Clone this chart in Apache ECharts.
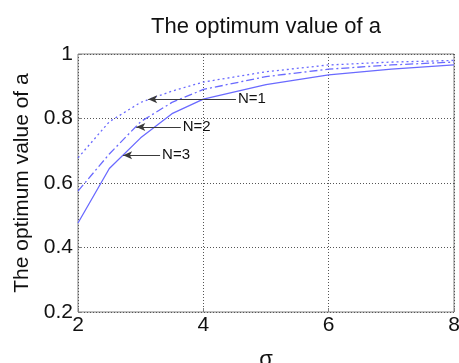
<!DOCTYPE html>
<html>
<head>
<meta charset="utf-8">
<script src="https://cdn.jsdelivr.net/npm/echarts@6/dist/echarts.min.js"></script>
<style>
html,body{margin:0;padding:0;background:#fff;}
#chart{width:459px;height:363px;}
</style>
</head>
<body>
<div id="chart"></div>
<script>
// Data
var sigma = [2, 2.5, 3, 3.5, 4, 5, 6, 7, 8];
var valuesN1 = [0.678, 0.79, 0.85, 0.885, 0.913, 0.945, 0.966, 0.975, 0.98];
var valuesN2 = [0.575, 0.69, 0.79, 0.85, 0.89, 0.93, 0.953, 0.966, 0.975];
var valuesN3 = [0.476, 0.645, 0.74, 0.815, 0.86, 0.905, 0.935, 0.953, 0.966];
var xTicks = [2, 4, 6, 8];
var yTicks = [0.2, 0.4, 0.6, 0.8, 1];
var labelsN = ['N=1', 'N=2', 'N=3'];
// annotation arrow: tip (on curve) and tail (label side), data coords
var arrowTips = [[3.12, 0.86], [2.93, 0.774], [2.72, 0.686]];
var arrowTailX = [4.52, 3.64, 3.31];

var FONT = '"Liberation Sans", Arial, sans-serif';
function pairs(xs, ys) { return xs.map(function (x, i) { return [x, ys[i]]; }); }
function annot(i) {
  return {
    silent: true,
    animation: false,
    lineStyle: { color: '#3a3a3a', width: 1, type: 'solid' },
    label: { show: true, position: 'end', formatter: labelsN[i], color: '#111', fontSize: 15, fontFamily: FONT, distance: 2 },
    data: [[
      { coord: arrowTips[i], symbol: 'arrow', symbolSize: [6, 9] },
      { coord: [arrowTailX[i], arrowTips[i][1]], symbol: 'none' }
    ]]
  };
}
var blue = '#6a6aff';
var chart = echarts.init(document.getElementById('chart'), null, { renderer: 'canvas' });
chart.setOption({
  animation: false,
  backgroundColor: '#fff',
  grid: { left: 78, right: 5, top: 54, bottom: 51, containLabel: false, outerBoundsMode: 'none',
    show: true, borderColor: '#808080', borderWidth: 1, backgroundColor: '#fff' },
  graphic: [{
    type: 'text', x: 266, y: 27,
    style: { text: 'The optimum value of a', fill: '#111', font: '22px ' + FONT, textAlign: 'center', textVerticalAlign: 'middle' }
  }],
  xAxis: {
    type: 'value', min: xTicks[0], max: xTicks[xTicks.length - 1], interval: 2,
    name: 'σ', nameLocation: 'middle', nameGap: 37,
    nameTextStyle: { fontSize: 22, color: '#111', fontFamily: FONT },
    axisLine: { show: false },
    axisTick: { show: true, inside: true, length: 4, lineStyle: { color: '#808080' } },
    axisLabel: { fontSize: 21, color: '#111', fontFamily: FONT, margin: 3 },
    splitLine: { show: true, lineStyle: { color: '#555', type: [1, 2], width: 1 } }
  },
  yAxis: {
    type: 'value', min: yTicks[0], max: yTicks[yTicks.length - 1], interval: 0.2,
    name: 'The optimum value of a', nameLocation: 'middle', nameGap: 44, nameRotate: 90,
    nameTextStyle: { fontSize: 21, color: '#111', fontFamily: FONT },
    axisLine: { show: false },
    axisTick: { show: true, inside: true, length: 4, lineStyle: { color: '#808080' } },
    axisLabel: { fontSize: 21, color: '#111', fontFamily: FONT, margin: 5,
      formatter: function (v) { return String(Math.round(v * 10) / 10); } },
    splitLine: { show: true, lineStyle: { color: '#555', type: [1, 2], width: 1 } }
  },
  series: [
    { type: 'line', data: pairs(sigma, valuesN1), showSymbol: false, symbol: 'none',
      lineStyle: { color: blue, width: 1.3, type: [2, 3] }, markLine: annot(0) },
    { type: 'line', data: pairs(sigma, valuesN2), showSymbol: false, symbol: 'none',
      lineStyle: { color: blue, width: 1.3, type: [8, 3, 2, 3] }, markLine: annot(1) },
    { type: 'line', data: pairs(sigma, valuesN3), showSymbol: false, symbol: 'none',
      lineStyle: { color: blue, width: 1.3, type: 'solid' }, markLine: annot(2) }
  ]
});
</script>
</body>
</html>
